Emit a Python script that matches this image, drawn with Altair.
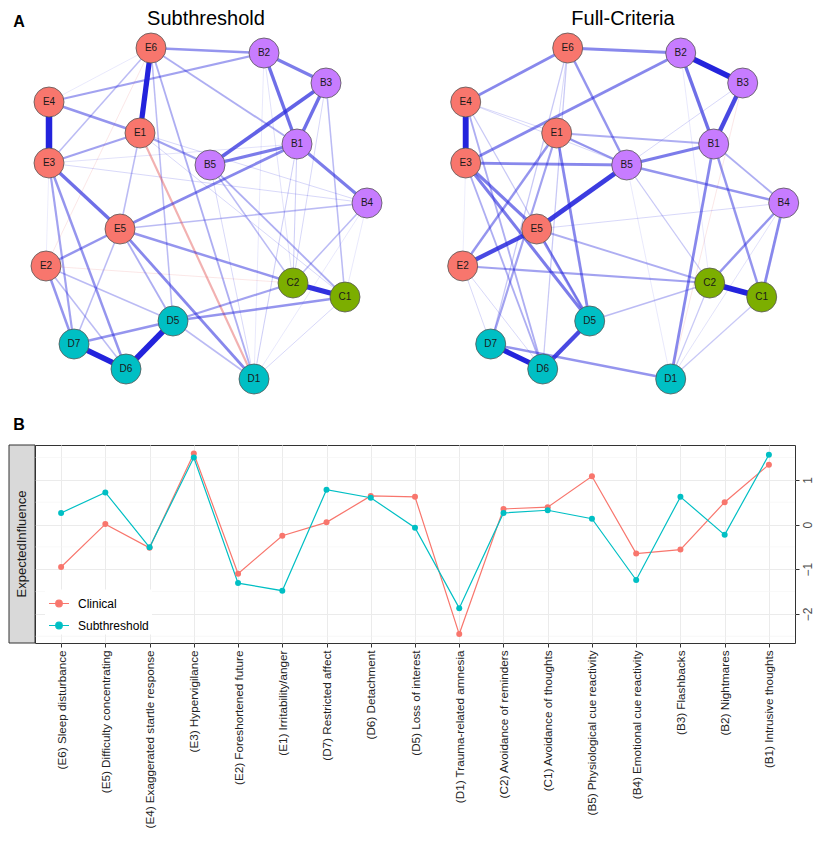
import altair as alt
import pandas as pd
import numpy as np

# ---------------- Panel A: network layout (shared averaged layout) ----------------
node_ids = ["E6", "B2", "B3", "E4", "E1", "B1", "E3", "B5", "B4", "E5", "E2", "C2", "C1", "D5", "D7", "D6", "D1"]
node_x = [142, 255, 317, 40, 131, 288, 40, 201, 358, 111, 37, 284, 336, 164, 65, 117, 245]
node_y = [40, 45, 75, 94, 125, 136, 155, 157, 195, 221, 258, 275, 289, 313, 336, 361, 371]

cluster_names = ["B", "C", "D", "E"]
cluster_colors = ["#C77CFF", "#7CAE00", "#00BFC4", "#F8766D"]

# Subthreshold network edges
sub_from = ["E4", "E6", "D5", "D7", "C2", "B3", "B2", "B3", "B2", "E3", "B1", "B1", "E5", "E5", "E6", "E4",
            "E4", "E3", "E1", "E5", "E5", "D5", "D5", "D7", "E2", "E3", "E3", "E6", "E6", "E6", "E6", "E1",
            "E5", "E5", "B5", "B5", "B3", "B4", "E2", "E2", "D5", "D7", "B1", "B1", "E1", "E6", "E2",
            "E6", "E3", "E3", "E1", "B3", "B2", "B4", "B4", "C1", "B5", "E1", "E2", "B2"]
sub_to = ["E3", "E1", "D6", "D6", "C1", "B5", "B1", "B1", "B3", "E5", "B4", "B5", "B1", "D1", "B2", "E1",
          "B2", "E1", "B5", "E2", "C2", "C1", "C2", "D5", "D7", "D6", "D7", "E3", "B1", "D1", "D5", "E5",
          "B4", "D5", "C1", "C2", "C1", "C2", "D6", "D5", "D1", "E5", "D1", "C2", "D1", "E2", "C2",
          "E4", "B4", "B1", "B4", "C2", "C2", "C1", "D1", "D1", "D1", "C1", "E3", "D1"]
sub_w = [1.0, 0.8, 0.9, 0.85, 0.75, 0.55, 0.5, 0.5, 0.45, 0.5, 0.45, 0.45, 0.4, 0.4, 0.35, 0.35,
         0.3, 0.3, 0.3, 0.35, 0.35, 0.35, 0.3, 0.35, 0.35, 0.35, 0.3, 0.2, 0.25, 0.25, 0.2, 0.2,
         0.2, 0.25, 0.25, 0.2, 0.2, 0.2, 0.2, 0.2, 0.2, 0.2, 0.12, 0.12, -0.3, -0.08, -0.08,
         0.06, 0.1, 0.08, 0.1, 0.1, 0.08, 0.06, 0.06, 0.1, 0.1, 0.1, 0.05, 0.06]

# Full-criteria network edges
full_from = ["E4", "B2", "B3", "B5", "E5", "C2", "D7", "D6", "E6", "E6", "B2", "B2", "E3", "E3", "E3", "E5",
             "E1", "E1", "B5", "B5", "B1", "E6", "E1", "E1", "E1", "E2", "E5", "B1", "B1", "B4", "B4", "D7",
             "E4", "E3", "D5", "E6", "E6", "E4", "E4", "C1", "C2", "E5", "B5", "B3", "B3",
             "E2", "E2", "E4", "B2", "B4", "E1", "E3", "B5"]
full_to = ["E3", "B3", "B1", "E5", "E2", "C1", "D6", "D5", "B2", "E4", "E3", "B1", "B5", "E5", "D5", "D5",
           "B5", "B1", "B1", "B4", "B4", "B5", "D5", "E2", "D7", "C2", "C2", "D1", "C1", "C2", "C1", "D1",
           "D6", "D6", "C2", "D6", "D7", "B5", "E1", "D1", "D1", "B4", "C2", "B5", "D1",
           "D6", "D7", "D5", "C2", "D1", "E6", "E2", "D1"]
full_w = [0.9, 0.85, 0.65, 0.7, 0.65, 0.85, 0.8, 0.65, 0.4, 0.4, 0.4, 0.5, 0.4, 0.45, 0.45, 0.4,
          0.35, 0.25, 0.45, 0.35, 0.25, 0.35, 0.4, 0.35, 0.3, 0.3, 0.25, 0.4, 0.35, 0.35, 0.4, 0.35,
          0.25, 0.25, 0.2, 0.15, 0.15, 0.1, 0.1, 0.15, 0.15, 0.1, 0.15, 0.1, -0.08,
          0.1, 0.1, 0.15, 0.06, 0.08, 0.1, 0.05, 0.06]

# ---------------- Panel B: expected influence ----------------
symptoms = ["(E6) Sleep disturbance", "(E5) Difficulty concentrating", "(E4) Exaggerated startle response",
            "(E3) Hypervigilance", "(E2) Foreshortened future", "(E1) Irritability/anger",
            "(D7) Restricted affect", "(D6) Detachment", "(D5) Loss of interest",
            "(D1) Trauma-related amnesia", "(C2) Avoidance of reminders", "(C1) Avoidance of thoughts",
            "(B5) Physiological cue reactivity", "(B4) Emotional cue reactivity", "(B3) Flashbacks",
            "(B2) Nightmares", "(B1) Intrusive thoughts"]
clinical = [-0.95, 0.01, -0.52, 1.59, -1.10, -0.25, 0.05, 0.64, 0.62, -2.45, 0.35, 0.39, 1.08, -0.65, -0.56, 0.50, 1.34]
subthreshold = [0.26, 0.72, -0.51, 1.50, -1.31, -1.48, 0.78, 0.60, -0.07, -1.87, 0.26, 0.32, 0.13, -1.24, 0.62, -0.23, 1.56]
groups = ["Clinical", "Subthreshold"]
group_colors = ["#F8766D", "#00BFC4"]
major_ticks = [-2, -1, 0, 1]
minor_breaks = [-2.5, -1.5, -0.5, 0.5, 1.5]

FONT = "Liberation Sans"
NET_W, NET_H = 380, 429
LEFT_X0, RIGHT_X0 = 26, 9.3       # layout-coordinate value at each panel's left edge
Y0 = 1                            # layout-coordinate value at the panels' top edge

nodes = pd.DataFrame({"node": node_ids, "x": node_x, "y": node_y,
                      "cluster": [n[0] for n in node_ids]})
pos = dict(zip(node_ids, zip(node_x, node_y)))


def edge_table(src, dst, w):
    df = pd.DataFrame({"from": src, "to": dst, "w": w})
    df["x"] = [pos[s][0] for s in src]
    df["y"] = [pos[s][1] for s in src]
    df["x2"] = [pos[t][0] for t in dst]
    df["y2"] = [pos[t][1] for t in dst]
    df["absw"] = df["w"].abs()
    df["sign"] = np.where(df["w"] > 0, "pos", "neg")
    return df.sort_values("absw").reset_index(drop=True)


def text_layer(t, x, y, size, weight="normal"):
    return alt.Chart(pd.DataFrame({"t": [t]})).mark_text(
        font=FONT, fontSize=size, fontWeight=weight, color="#000000", baseline="middle").encode(
        text="t:N", x=alt.value(x), y=alt.value(y))


def network(edf, x0, title, title_x, extra):
    xs = alt.X("x:Q", scale=alt.Scale(domain=[x0, x0 + NET_W], nice=False, zero=False), axis=None)
    ys = alt.Y("y:Q", scale=alt.Scale(domain=[Y0, Y0 + NET_H], reverse=True, nice=False, zero=False), axis=None)
    edges = alt.Chart(edf).mark_rule().encode(
        x=xs, y=ys, x2="x2:Q", y2="y2:Q",
        color=alt.Color("sign:N", scale=alt.Scale(domain=["pos", "neg"], range=["#2323DC", "#E04848"]), legend=None),
        strokeWidth=alt.StrokeWidth("absw:Q", scale=alt.Scale(domain=[0, 1], range=[0.3, 6.5]), legend=None),
        opacity=alt.Opacity("absw:Q", scale=alt.Scale(domain=[0, 0.8], range=[0.08, 1], clamp=True), legend=None),
    )
    pts = alt.Chart(nodes).mark_circle(size=900, opacity=1, stroke="#555555", strokeWidth=0.8).encode(
        x=xs, y=ys,
        fill=alt.Fill("cluster:N", scale=alt.Scale(domain=cluster_names, range=cluster_colors), legend=None),
    )
    labels = alt.Chart(nodes).mark_text(font=FONT, fontSize=10, color="#1a1a1a").encode(
        x=xs, y=ys, text="node:N")
    layers = [edges, pts, labels, text_layer(title, title_x, 10, 20)] + extra
    return alt.layer(*layers).properties(width=NET_W, height=NET_H)


net_sub = network(edge_table(sub_from, sub_to, sub_w), LEFT_X0, "Subthreshold", 171,
                  [text_layer("A", -16, 13, 16, "bold"), text_layer("B", -16, 416, 16, "bold")])
net_full = network(edge_table(full_from, full_to, full_w), RIGHT_X0, "Full-Criteria", 188, [])
top = alt.hconcat(net_sub, net_full, spacing=20)

# line chart
LW, LH = 760, 198
df = pd.DataFrame({
    "symptom": symptoms * 2,
    "value": clinical + subthreshold,
    "group": [groups[0]] * len(symptoms) + [groups[1]] * len(symptoms),
})
xenc = alt.X("symptom:N", sort=symptoms, scale=alt.Scale(type="point", padding=0.59),
             axis=alt.Axis(title=None, labelAngle=270, labelFont=FONT, labelFontSize=11.7, labelColor="#222222",
                           labelLimit=400, tickColor="#333333", tickSize=4, domain=False, grid=True,
                           gridColor="#EBEBEB", gridWidth=1, labelPadding=3))
yscale = alt.Scale(domain=[-2.65, 1.78], nice=False, zero=False)
yaxis = alt.Axis(orient="right", values=major_ticks, title=None, labelAngle=270, labelFont=FONT,
                 labelFontSize=12, labelColor="#4D4D4D", tickColor="#333333", tickSize=4,
                 domain=False, grid=True, gridColor="#EBEBEB", gridWidth=1, labelPadding=3)
yenc = alt.Y("value:Q", scale=yscale, axis=yaxis)
legend_path = "M-1,0L1,0M-0.33,0A0.33,0.33,0,1,1,0.33,0A0.33,0.33,0,1,1,-0.33,0Z"
cenc = alt.Color("group:N", scale=alt.Scale(domain=groups, range=group_colors),
                 legend=alt.Legend(title=None, orient="none", legendX=10, legendY=144.5, symbolType=legend_path,
                                   symbolSize=400, symbolStrokeWidth=1.2, labelFont=FONT, labelFontSize=12,
                                   labelColor="#000000", fillColor="white", padding=3, rowPadding=5,
                                   labelOffset=8))
minor = alt.Chart(pd.DataFrame({"value": minor_breaks})).mark_rule(color="#F4F4F4", strokeWidth=0.6).encode(
    y=yenc)
base = alt.Chart(df).encode(x=xenc, y=yenc, color=cenc)
lines = base.mark_line(strokeWidth=1.2)
points = base.mark_point(filled=True, size=36, opacity=1)
strip = alt.Chart(pd.DataFrame({"t": ["ExpectedInfluence"]})).mark_rect(
    fill="#D9D9D9", stroke="#333333", strokeWidth=1).encode(
    x=alt.value(-26), x2=alt.value(0), y=alt.value(0), y2=alt.value(LH))
strip_text = alt.Chart(pd.DataFrame({"t": ["ExpectedInfluence"]})).mark_text(
    font=FONT, fontSize=13, color="#1A1A1A", angle=270, baseline="middle").encode(
    text="t:N", x=alt.value(-13), y=alt.value(LH / 2))
line_chart = alt.layer(minor, lines, points, strip, strip_text).properties(
    width=LW, height=LH, view=alt.ViewBackground(stroke="#333333", strokeWidth=1))

chart = alt.vconcat(top, line_chart, spacing=6).resolve_scale(
    color="independent", fill="independent", opacity="independent", strokeWidth="independent"
).properties(padding={"left": 0, "top": 1, "right": 0, "bottom": 0}).configure_view(strokeWidth=0)

chart.save("out.html", embed_options={"renderer": "svg", "actions": False})
